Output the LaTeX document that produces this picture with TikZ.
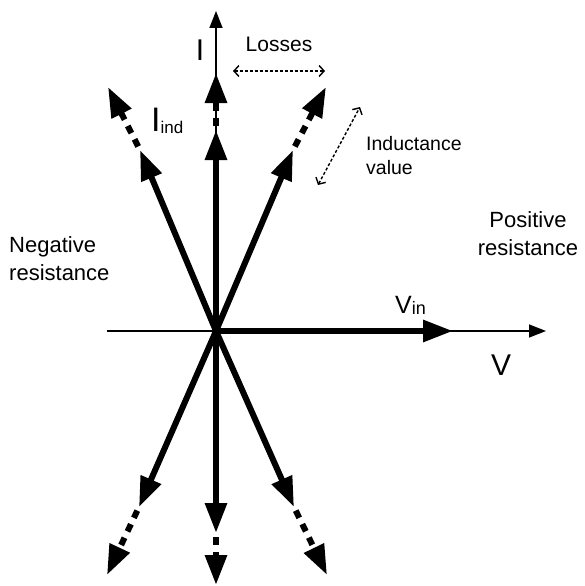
\documentclass[tikz,border=0pt]{standalone}
\usepackage{fontspec}
\setmainfont{Liberation Sans}
\usetikzlibrary{arrows.meta}
\begin{document}
\begin{tikzpicture}[x=1pt,y=-1pt,
 axisline/.style={line width=1.5pt,-{Triangle[length=17pt,width=13pt]}},
 vec/.style={line width=6pt,-{Triangle[length=30pt,width=21pt]}},
 ext/.style={line width=6pt,dash pattern=on 8pt off 7pt,dash phase=11pt,-{Triangle[length=30pt,width=21pt]}},
 hint/.style={line width=1.4pt,dash pattern=on 3pt off 2pt,{Straight Barb[length=5pt,width=11pt]}-{Straight Barb[length=5pt,width=11pt]}},
 lbl/.style={inner sep=0pt},
]
\useasboundingbox (0,0) rectangle (584,586);
% key points
\coordinate (O) at (216,331);
\coordinate (axL) at (107,331);
\coordinate (axR) at (546,331);
\coordinate (axT) at (216,11);
\coordinate (vin) at (453,331);
\coordinate (upI) at (216,130);
\coordinate (upO) at (216,73);
\coordinate (dnI) at (216,533);
\coordinate (dnO) at (216,585);
\coordinate (ulI) at (140,150);
\coordinate (ulO) at (108,87);
\coordinate (urI) at (293,150);
\coordinate (urO) at (326,87);
\coordinate (llI) at (139,507);
\coordinate (llO) at (107,575);
\coordinate (lrI) at (294,507);
\coordinate (lrO) at (327,575);
\coordinate (lossA) at (233,71);
\coordinate (lossB) at (325,71);
\coordinate (indA) at (318,185);
\coordinate (indB) at (360,107);
% axes
\draw[axisline] (axL) -- (axR);
\draw[axisline] (O) -- (axT);
% vectors
\draw[vec] (O) -- (vin);
\foreach \i/\o in {upI/upO,dnI/dnO,ulI/ulO,urI/urO,llI/llO,lrI/lrO}{
  \draw[vec] (O) -- (\i);
  \draw[ext] (\i) -- (\o);
}
% hints
\draw[hint] (lossA) -- (lossB);
\draw[hint] (indA) -- (indB);
% labels
\node[lbl,anchor=base,font=\fontsize{30}{36}\selectfont] (labI) at (200,60) {I};
\node[lbl,anchor=base,font=\fontsize{21}{25}\selectfont] (labLoss) at (279,52) {Losses};
\node[lbl,anchor=base west,font=\fontsize{34}{40}\selectfont] (labInd) at (151,131) {I\raisebox{-2pt}{\fontsize{17}{20}\selectfont ind}};
\node[lbl,anchor=base west,font=\fontsize{25}{30}\selectfont] (labVin) at (395,313) {V\raisebox{-1pt}{\fontsize{18}{20}\selectfont in}};
\node[lbl,anchor=base west,font=\fontsize{30}{36}\selectfont] (labV) at (491,375) {V};
\node[lbl,anchor=north west,align=left,font=\fontsize{22}{28}\selectfont] (labNeg) at (9,236) {Negative\\resistance};
\node[lbl,anchor=north,align=center,font=\fontsize{22}{28}\selectfont] (labPos) at (528,211) {Positive\\resistance};
\node[lbl,anchor=north west,align=left,font=\fontsize{19.5}{24}\selectfont] (labIndV) at (366,136) {Inductance\\value};
\end{tikzpicture}
\end{document}
